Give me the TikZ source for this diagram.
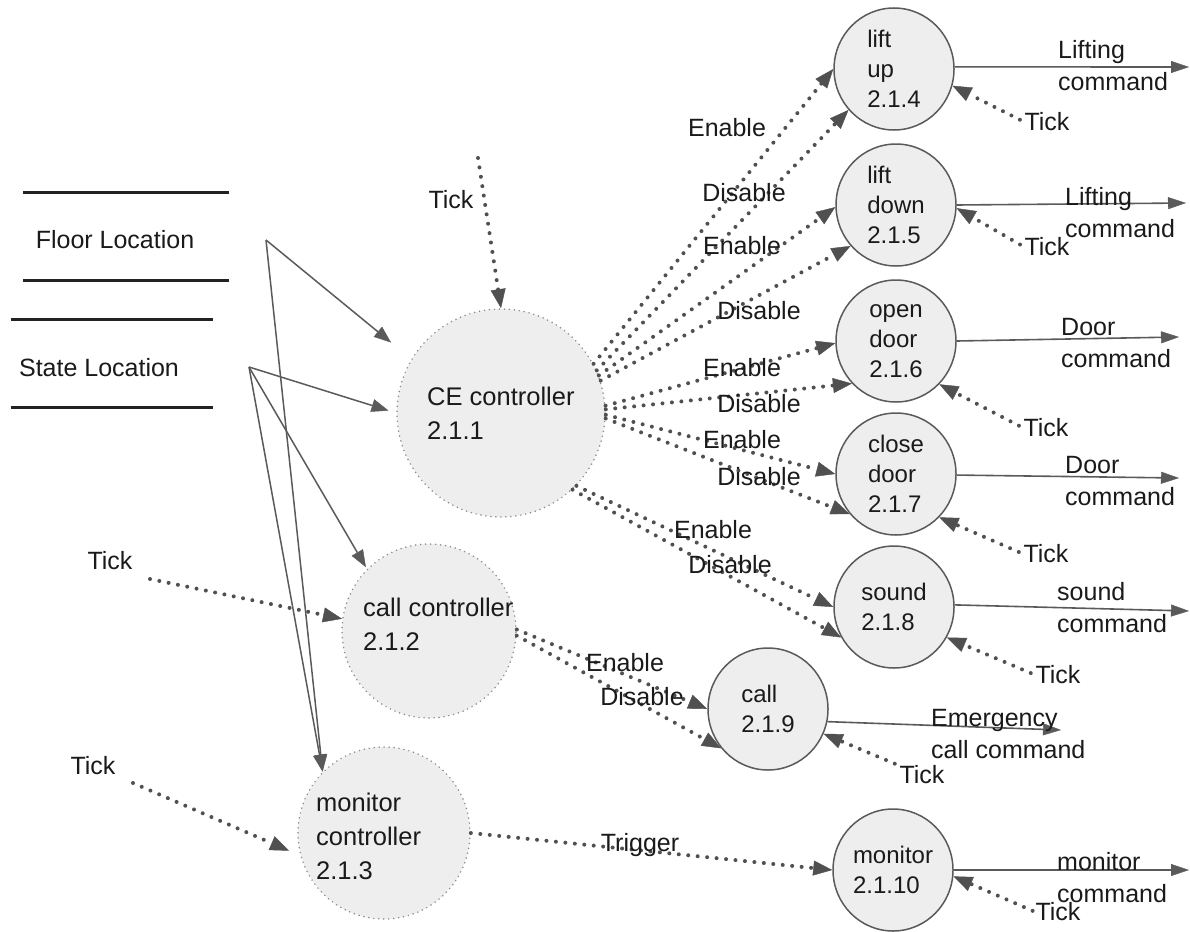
\documentclass[tikz,border=0pt]{standalone}
\usepackage{fontspec}
\setmainfont{Liberation Sans}
\usetikzlibrary{arrows.meta,shapes.geometric}
\definecolor{lnc}{HTML}{5A5A5A}
\definecolor{dotc}{HTML}{505050}
\definecolor{fillc}{HTML}{EEEEEE}
\definecolor{ctrlb}{HTML}{8A8A8A}
\definecolor{txtc}{HTML}{1A1A1A}
\definecolor{storec}{HTML}{222222}
\tikzset{
  every node/.style={inner sep=0pt, text=txtc},
  lbl/.style={font=\fontsize{25}{32}\selectfont, align=left},
  ctrl/.style={circle, draw=ctrlb, fill=fillc, line width=1.7pt, line cap=round,
    dash pattern=on 0pt off 5pt},
  ctext/.style={font=\fontsize{25.5}{34}\selectfont, align=left, anchor=west},
  proc/.style={ellipse, draw=lnc, fill=fillc, line width=1.5pt,
    minimum width=120pt, minimum height=122pt, align=left,
    font=\fontsize{24}{30}\selectfont},
  store/.style={draw=storec, line width=3pt},
  flow/.style={draw=lnc, line width=1.5pt,
    -{Triangle[length=17pt,width=13pt,line width=0.4pt]}},
  outf/.style={draw=lnc, line width=1.6pt,
    -{Triangle[length=18pt,width=12pt,line width=0.4pt]}},
  ctl/.style={draw=dotc, line width=4pt, line cap=round,
    dash pattern=on 0pt off 9.5pt,
    -{Triangle[length=19pt,width=15pt,line width=0.4pt]}},
  outl/.style={font=\fontsize{25}{32}\selectfont, align=left, anchor=west},
}
\begin{document}
\begin{tikzpicture}[x=1pt,y=-1pt]
\useasboundingbox (0,0) rectangle (1190,931);

% ---------- data stores ----------
\draw[store] (23,192) -- (229,192);
\draw[store] (23,280) -- (229,280);
\node[lbl] (floor) at (115,240) {Floor Location};
\draw[store] (11,319) -- (213,319);
\draw[store] (11,407) -- (213,407);
\node[lbl] (state) at (99,368) {State Location};
\coordinate (F) at (266,240);
\coordinate (S) at (249,367);

% ---------- controllers ----------
\node[ctrl, minimum size=208pt] (ce) at (501,413) {};
\node[ctext] (ce-t) at (427,413) {CE controller\\2.1.1};
\node[ctrl, minimum size=174pt] (cc) at (429,631) {};
\node[ctext] (cc-t) at (363,624) {call controller\\2.1.2};
\node[ctrl, minimum size=172pt] (mc) at (384,833) {};
\node[ctext] (mc-t) at (316,836) {monitor\\controller\\2.1.3};

% ---------- processes ----------
\node[proc] (lu) at (894,69)  {lift\\up\\2.1.4};
\node[proc] (ld) at (896,205) {lift\\down\\2.1.5};
\node[proc] (od) at (896,341) {open\\door\\2.1.6};
\node[proc] (cd) at (896,474) {close\\door\\2.1.7};
\node[proc] (sd) at (894,607) {sound\\2.1.8};
\node[proc] (cl) at (768,709) {call\\2.1.9};
\node[proc] (mn) at (893,870) {monitor\\2.1.10};

% ---------- data flows ----------
\draw[flow, shorten >=26pt] (F) -- (ce.149);
\draw[flow, shorten >=8pt] (S) -- (ce.180);
\draw[flow, shorten >=2pt] (S) -- (cc.135);
\draw[flow] (F) -- (mc.135);
\draw[flow] (S) -- (mc.135);

% ---------- ticks to controllers ----------
\node[lbl] (t-ce) at (451,200) {Tick};
\coordinate (t-ce-s) at (478,158);
\draw[ctl] (t-ce-s) -- (ce.north);
\node[lbl] (t-cc) at (110,561) {Tick};
\coordinate (t-cc-s) at (150,579);
\draw[ctl] (t-cc-s) -- (cc.172);
\node[lbl] (t-mc) at (93,766) {Tick};
\coordinate (t-mc-s) at (133,783);
\draw[ctl, shorten >=12pt] (t-mc-s) -- (mc.195);

% ---------- enable / disable ----------
\draw[ctl] (ce.28) -- (lu.180);
\draw[ctl] (ce.24) -- (lu.222);
\draw[ctl] (ce.21) -- (ld.182);
\draw[ctl] (ce.18) -- (ld.222);
\draw[ctl] (ce.4) -- (od.182);
\draw[ctl] (ce.2) -- (od.224);
\draw[ctl] (ce.-1) -- (cd.180);
\draw[ctl] (ce.-3) -- (cd.221);
\draw[ctl] (ce.-44) -- (sd.180);
\draw[ctl] (ce.-47) -- (sd.210);
\draw[ctl] (cc.1) -- (cl.180);
\draw[ctl] (cc.-3) -- (cl.220);
\draw[ctl] (mc.0) -- (mn.180);

\node[lbl] (e1) at (727,128) {Enable};
\node[lbl] (d1) at (744,193) {Disable};
\node[lbl] (e2) at (742,246) {Enable};
\node[lbl] (d2) at (759,311) {Disable};
\node[lbl] (e3) at (742,368) {Enable};
\node[lbl] (d3) at (759,404) {Disable};
\node[lbl] (e4) at (742,440) {Enable};
\node[lbl] (d4) at (759,477) {Disable};
\node[lbl] (e5) at (713,530) {Enable};
\node[lbl] (d5) at (730,565) {Disable};
\node[lbl] (e6) at (625,663) {Enable};
\node[lbl] (d6) at (642,697) {Disable};
\node[lbl] (trg) at (640,845) {Trigger};

% ---------- outputs ----------
\coordinate (o-lu) at (1189,67);
\coordinate (o-ld) at (1186,203);
\coordinate (o-od) at (1179,337);
\coordinate (o-cd) at (1179,478);
\coordinate (o-sd) at (1189,611);
\coordinate (o-cl) at (1061,730);
\coordinate (o-mn) at (1189,870);
\draw[outf] (lu.2) -- (o-lu);
\draw[outf] (ld.east) -- (o-ld);
\draw[outf] (od.east) -- (o-od);
\draw[outf] (cd.-1) -- (o-cd);
\draw[outf] (sd.2) -- (o-sd);
\draw[outf] (cl.-12) -- (o-cl);
\draw[outf] (mn.east) -- (o-mn);
\node[outl] (l-lu) at (1058,66) {Lifting\\command};
\node[outl] (l-ld) at (1065,213) {Lifting\\command};
\node[outl] (l-od) at (1061,343) {Door\\command};
\node[outl] (l-cd) at (1065,481) {Door\\command};
\node[outl] (l-sd) at (1057,608) {sound\\command};
\node[outl] (l-cl) at (931,734) {Emergency\\call command};
\node[outl] (l-mn) at (1057,878) {monitor\\command};

% ---------- ticks to processes ----------
\node[lbl] (t-lu) at (1047,122) {Tick};
\node[lbl] (t-ld) at (1047,247) {Tick};
\node[lbl] (t-od) at (1046,428) {Tick};
\node[lbl] (t-cd) at (1046,554) {Tick};
\node[lbl] (t-sd) at (1058,675) {Tick};
\node[lbl] (t-cl) at (922,775) {Tick};
\node[lbl] (t-mn) at (1058,912) {Tick};
\draw[ctl, shorten <=5pt] (t-lu.west) -- (lu.-16);
\draw[ctl, shorten <=5pt] (t-ld.west) -- (ld.-3);
\draw[ctl, shorten <=5pt] (t-od.west) -- (od.-45);
\draw[ctl, shorten <=5pt] (t-cd.west) -- (cd.-45);
\draw[ctl, shorten <=5pt] (t-sd.west) -- (sd.-30);
\draw[ctl, shorten <=5pt] (t-cl.north west) -- (cl.-24);
\draw[ctl, shorten <=3pt] (t-mn.west) -- (mn.-6);
\end{tikzpicture}
\end{document}
